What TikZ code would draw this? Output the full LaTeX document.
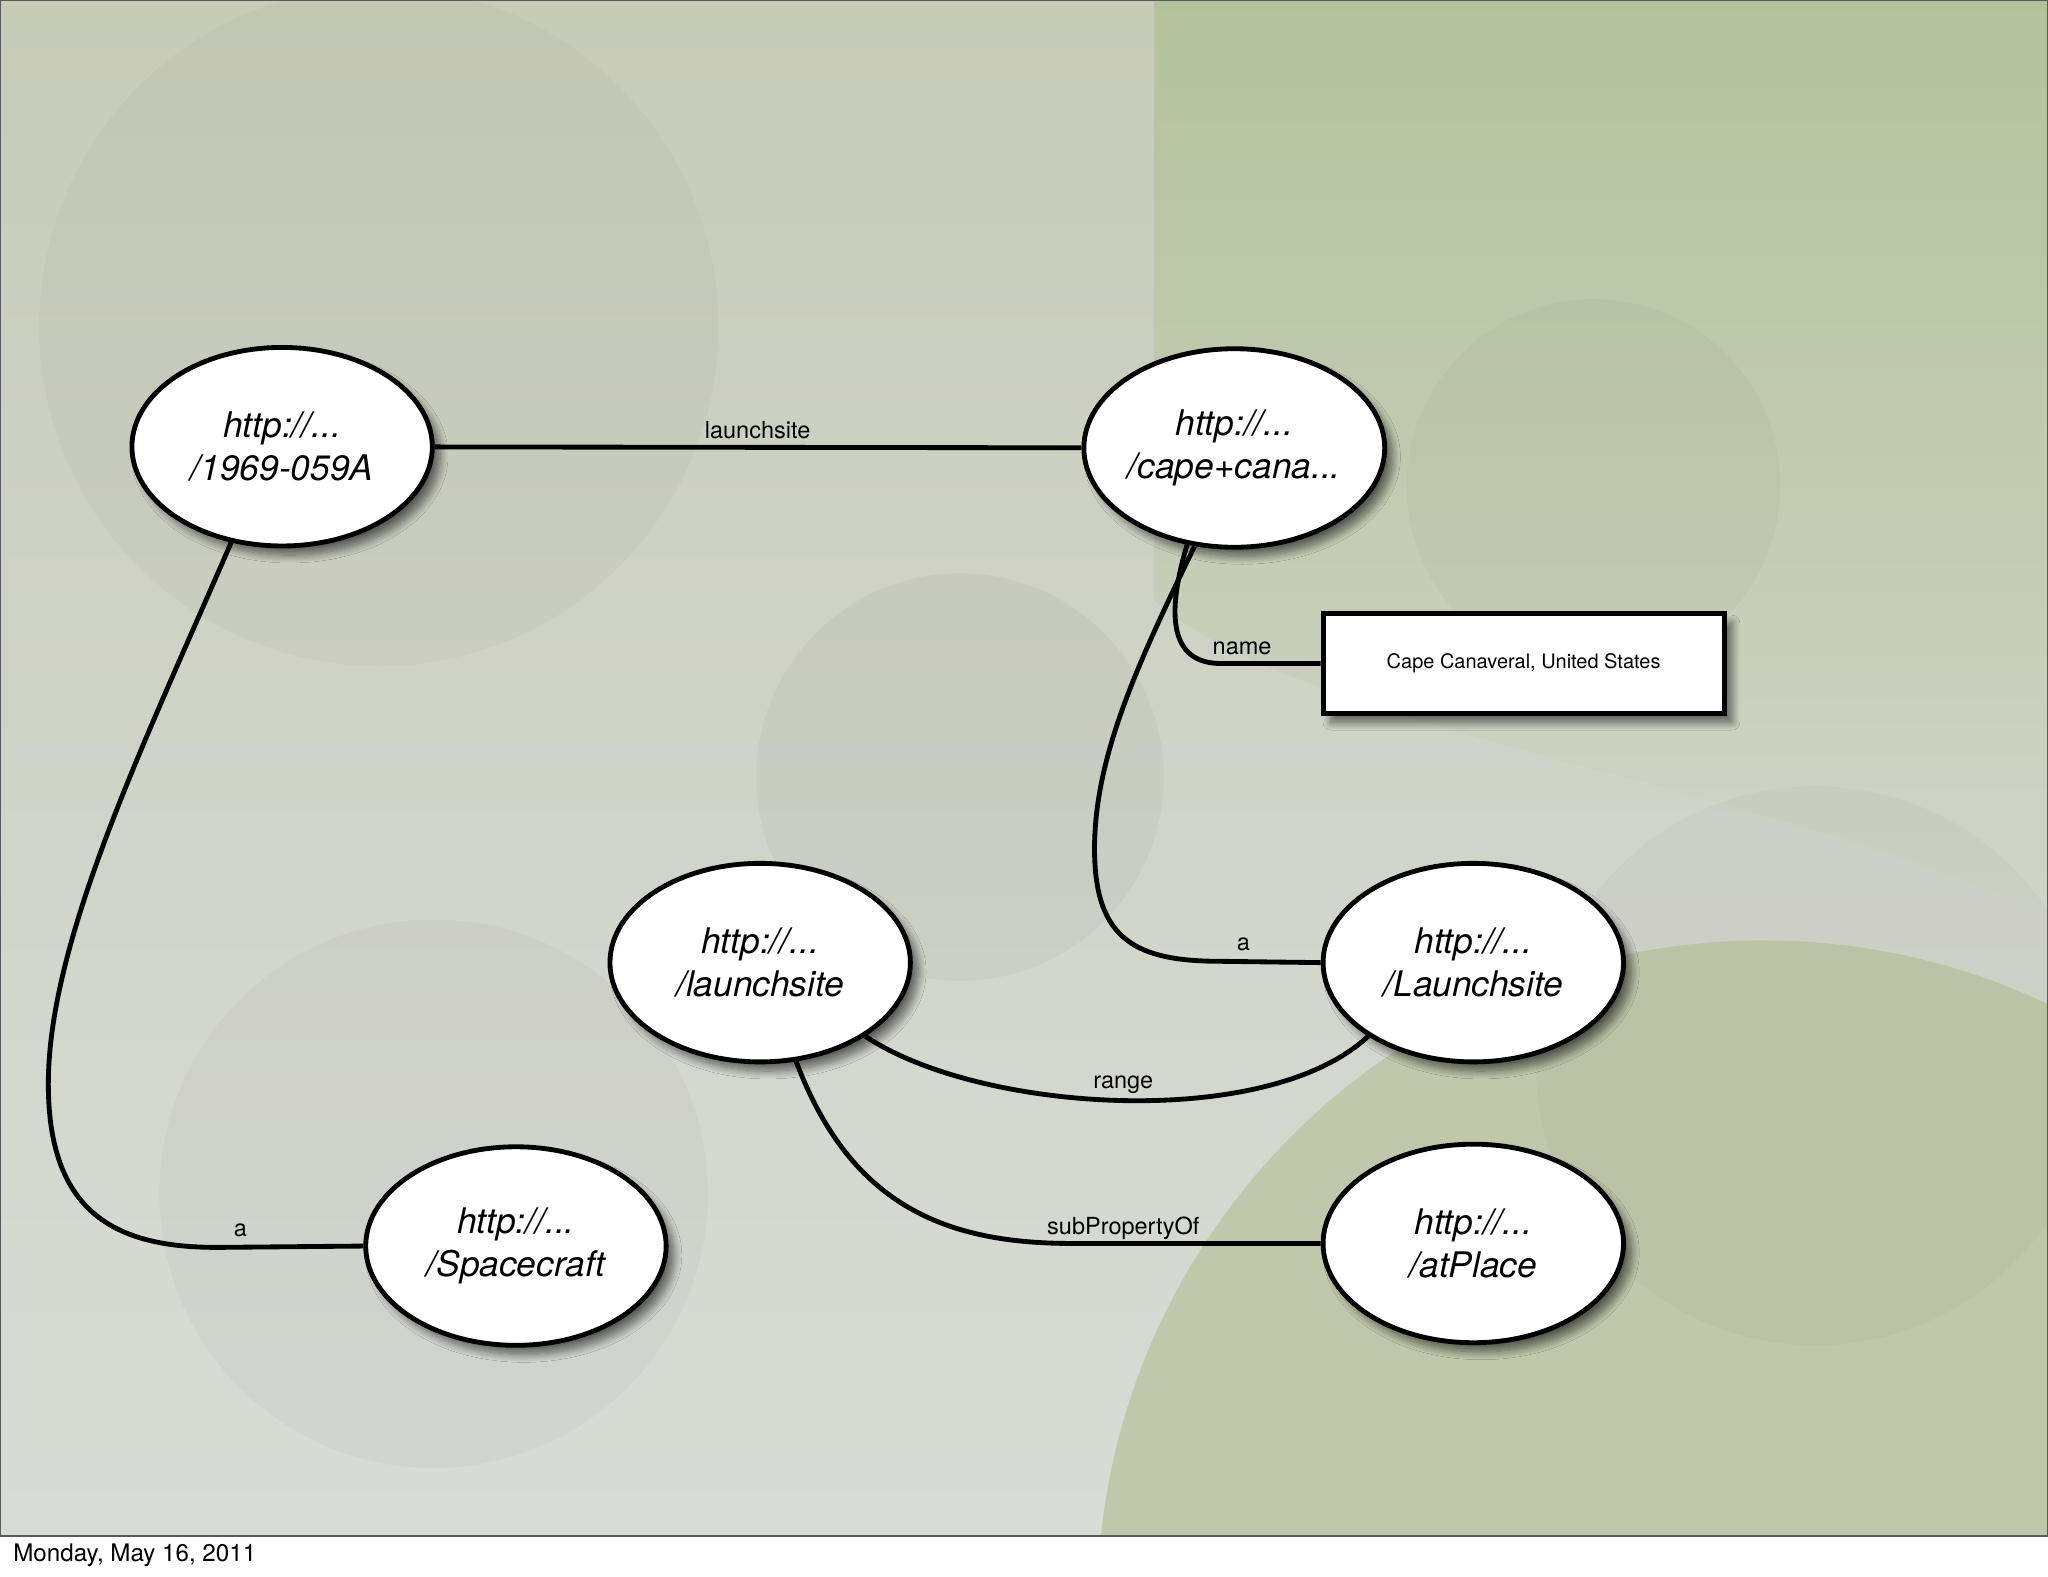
\documentclass[tikz,border=0pt]{standalone}
\usepackage{fontspec}
\setmainfont{TeX Gyre Heros}
\usetikzlibrary{positioning,shapes.geometric,shadows.blur}

\definecolor{slidetop}{HTML}{C7CBB8}
\definecolor{slidebot}{HTML}{D9DCD6}
\definecolor{greentop}{HTML}{B4C29C}
\definecolor{greenlow}{HTML}{C0C7AB}
\definecolor{frameline}{HTML}{5A5A5A}

\begin{document}
\begin{tikzpicture}[x=1pt, y=-1pt,
    res/.style={ellipse, draw=black, line width=3.7pt, fill=white, inner sep=0pt,
                minimum width=230pt, minimum height=152pt, align=center,
                font=\fontsize{27}{33}\selectfont\itshape,
                blur shadow={shadow xshift=6pt, shadow yshift=-7pt, shadow blur steps=12,
                             shadow blur radius=6pt, shadow opacity=55}},
    lit/.style={rectangle, draw=black, line width=3.7pt, fill=white, inner sep=0pt,
                minimum width=307pt, minimum height=76pt,
                font=\fontsize{15.3}{18}\selectfont,
                blur shadow={shadow xshift=6pt, shadow yshift=-7pt, shadow blur steps=12,
                             shadow blur radius=6pt, shadow opacity=55}},
    rel/.style={draw=black, line width=3.7pt},
    lbl/.style={anchor=base, inner sep=0pt, font=\fontsize{18}{20}\selectfont},
]
\useasboundingbox (0,0) rectangle (1568,1207);

% slide background
\shade[top color=slidetop, bottom color=slidebot] (0,0) rectangle (1568,1176);
\begin{scope}
    \clip (0,0) rectangle (1568,1176);
    \shade[top color=greentop, bottom color=slidetop!45!slidebot, middle color=greentop!60!slidetop!80!slidebot]
        (884,0) -- (1568,0) -- (1568,700) .. controls (1350,600) and (1000,560) .. (884,460) -- cycle;
    \fill[greenlow] (1350,1230) circle (510);
    \fill[black, opacity=.022] (290,250) circle (260);
    \fill[black, opacity=.03] (735,595) circle (156);
    \fill[black, opacity=.025] (332,914) circle (210);
    \fill[black, opacity=.022] (1220,372) circle (143);
    \fill[black, opacity=.025] (1390,816) circle (214);
\end{scope}
\draw[frameline, line width=2pt] (0,0) rectangle (1568,1176);

% resources
\node[res] (mission) at (216,342) {http://...\\/1969-059A};
\node[res] (cape) at (945,343) {http://...\\/cape+cana...};
\node[lit] (capename) at (1166.5,508) {Cape Canaveral, United States};
\node[res] (prop) at (582,737) {http://...\\/launchsite};
\node[res] (siteclass) at (1128,737) {http://...\\/Launchsite};
\node[res] (craft) at (395,954) {http://...\\/Spacecraft};
\node[res] (place) at (1128,952) {http://...\\/atPlace};

% relations
\draw[rel] (mission) -- (cape);
\node[lbl] (lblsite) at (580,336) {launchsite};

\draw[rel] (mission.-118) .. controls (110,570) and (37,720) .. (37,830)
    .. controls (37,930) and (90,956) .. (170,955) -- (craft.west);
\node[lbl] (lbltype) at (184,947) {a};

\draw[rel] (cape.-116) .. controls (893,470) and (895,508) .. (935,508) -- (capename.west);
\node[lbl] (lblname) at (951,501) {name};

\draw[rel] (cape.-112) .. controls (870,510) and (838,580) .. (838,650)
    .. controls (838,720) and (870,736) .. (935,736) -- (siteclass.west);
\node[lbl] (lblsitetype) at (952,728) {a};

\draw[rel] (prop.-35) .. controls (750,852) and (970,866) .. (siteclass.-145);
\node[lbl] (lblrange) at (860,833) {range};

\draw[rel] (prop.-70) .. controls (650,920) and (720,952) .. (820,952) -- (place.west);
\node[lbl] (lblsub) at (860,945) {subPropertyOf};

% date line
\node[anchor=west, inner sep=0pt, font=\fontsize{18.5}{20}\selectfont] (date) at (10,1191) {Monday, May 16, 2011};
\end{tikzpicture}
\end{document}
